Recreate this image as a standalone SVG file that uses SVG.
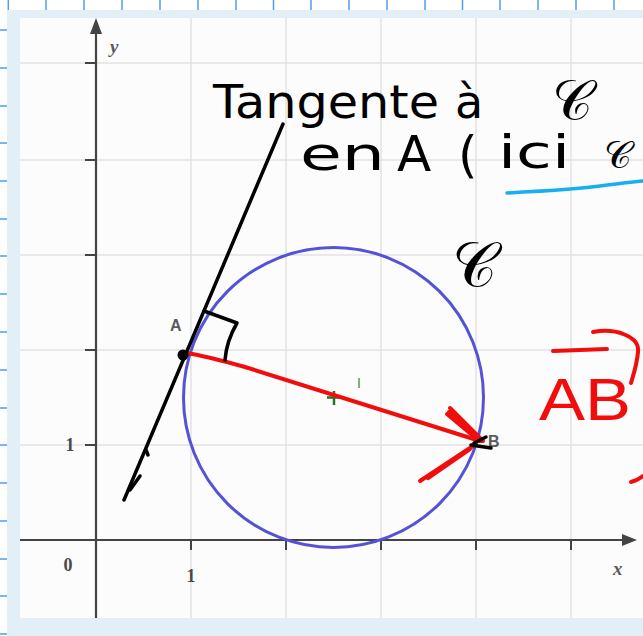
<svg xmlns="http://www.w3.org/2000/svg" width="643" height="636" viewBox="0 0 643 636">
<style>
.nb{stroke:#4f9ff0;stroke-width:1.5}
.grid{stroke:#e2e2e2;stroke-width:1.5;fill:none}
.axis{stroke:#444;stroke-width:2.2;fill:none}
.tick{stroke:#444;stroke-width:2}
.num{font-family:"Liberation Serif","DejaVu Serif",serif;font-weight:bold;font-size:18px;fill:#4a4a4a}
.var{font-family:"Liberation Serif","DejaVu Serif",serif;font-style:italic;font-weight:bold;font-size:19px;fill:#5a5a5a}
.pt{font-family:"Liberation Sans","DejaVu Sans",sans-serif;font-size:16px;font-weight:bold;fill:#5a5a5a}
.ink{stroke:#000;stroke-width:3.5;fill:none;stroke-linecap:round;stroke-linejoin:round}
.red{stroke:#f20d0d;stroke-width:4;fill:none;stroke-linecap:round;stroke-linejoin:round}
.hand{font-family:"DejaVu Sans","Liberation Sans",sans-serif;fill:#000}
.script{font-family:"DejaVu Serif","DejaVu Sans","Noto Sans",serif;fill:#000}
</style>
<rect width="643" height="636" fill="#ffffff"/>
<g id="notebook">
<path class="nb" d="M8.3,0V10M46,0V10M84,0V10M122,0V10M160,0V10M198,0V10M236,0V10M273.5,0V10M311,0V10M349,0V10M387,0V10M425,0V10M462.5,0V10M500,0V10M538,0V10M576,0V10M614,0V10"/>
<path class="nb" d="M0,30H7M0,68H7M0,106H7M0,143H7M0,181H7M0,219H7M0,256H7M0,294H7M0,332H7M0,370H7M0,408H7M0,445H7M0,483H7M0,521H7M0,559H7M0,596H7M0,634H7"/>
</g>
<rect id="frame" x="7" y="10" width="636" height="626" fill="#e3eff7"/>
<rect id="plot" x="20" y="18" width="623" height="600" fill="#fcfcfc"/>
<g id="grid">
<path class="grid" d="M191,18V618M286,18V618M381,18V618M476,18V618M571,18V618M20,445H643M20,350H643M20,255H643M20,160H643M20,63H643"/>
</g>
<g id="axes">
<path class="axis" d="M20,540H628M96,618V32"/>
<polygon points="637,540 622,534 622,546" fill="#444"/>
<polygon points="96,18 90,34 102,34" fill="#444"/>
<path class="tick" d="M191,540V550M286,540V550M381,540V550M476,540V550M571,540V550M85,445H96M85,350H96M85,255H96M85,160H96M85,63H96"/>
<text class="num" x="68" y="571" text-anchor="middle">0</text>
<text class="num" x="191" y="582" text-anchor="middle">1</text>
<text class="num" x="70" y="451" text-anchor="middle">1</text>
<text class="var" x="110" y="53">y</text>
<text class="var" x="613" y="575">x</text>
</g>
<g id="circle">
<circle cx="333.5" cy="397.5" r="150" fill="none" stroke="#5353d6" stroke-width="3"/>
</g>
<g id="center-I">
<path d="M327,397.5H341M334,391V405" stroke="#2a6e2a" stroke-width="2.5"/>
<text x="357" y="388" font-family="Liberation Sans,sans-serif" font-size="14" fill="#4a8a4a">I</text>
</g>
<g id="point-A">
<text class="pt" x="170" y="331">A</text>
</g>
<g id="point-B">
<text class="pt" x="488" y="447" font-size="15">B</text>
</g>
<g id="connectors">
<path class="red" d="M186,353 C200,355 220,360 245,367 L480,441"/>
<path class="red" d="M450,408 L483,441 M447,414 L478,440 M449,412 C460,420 470,432 481,441"/>
<path class="red" d="M420,481 L476,444 M428,478 L470,449 M421,480 C440,470 455,460 474,445"/>
<path class="ink" d="M283,124 L124,500"/>
<path class="ink" d="M140,476 L130,490 M146,450 L148,455" stroke-width="3"/>
<path class="ink" d="M204,311 L237,323 C230,335 226,347 225,360"/>
<circle cx="183" cy="355" r="5.5" fill="#000"/>
<path class="ink" d="M471,445 L491,448 M474,443 L486,437" stroke-width="2.5"/>
</g>
<g id="annotation-tangente">
<text class="hand" font-size="46" x="213" y="118" textLength="226" lengthAdjust="spacingAndGlyphs">Tangente</text>
<text class="hand" font-size="46" x="455" y="118">à</text>
<text class="script" font-size="56" x="552" y="120">𝒞</text>
<text class="hand" font-size="46" x="300" y="170" textLength="85" lengthAdjust="spacingAndGlyphs">en</text>
<text class="hand" font-size="50" x="397" y="171">A</text>
<text class="hand" font-size="50" x="458" y="172">(</text>
<text class="hand" font-size="46" x="498" y="168" textLength="72" lengthAdjust="spacingAndGlyphs">ici</text>
<text class="script" font-size="38" x="604" y="168">𝒞</text>
<path d="M507,193 C540,191 570,190 600,186 C615,184 630,182 643,181" stroke="#18aef0" stroke-width="3.5" fill="none" stroke-linecap="round"/>
</g>
<g id="label-C">
<text class="script" font-size="62" x="452" y="286">𝒞</text>
</g>
<g id="label-AB">
<text font-family="Liberation Sans,sans-serif" font-size="60" x="539" y="420" fill="#f20d0d" textLength="92" lengthAdjust="spacingAndGlyphs">AB</text>
<path class="red" d="M553,351 L607,349"/>
<path class="red" d="M593,332 C615,328 640,336 638,352 C637,364 634,373 631,383"/>
<path class="red" d="M631,482 Q638,480 643,476"/>
</g>
</svg>
